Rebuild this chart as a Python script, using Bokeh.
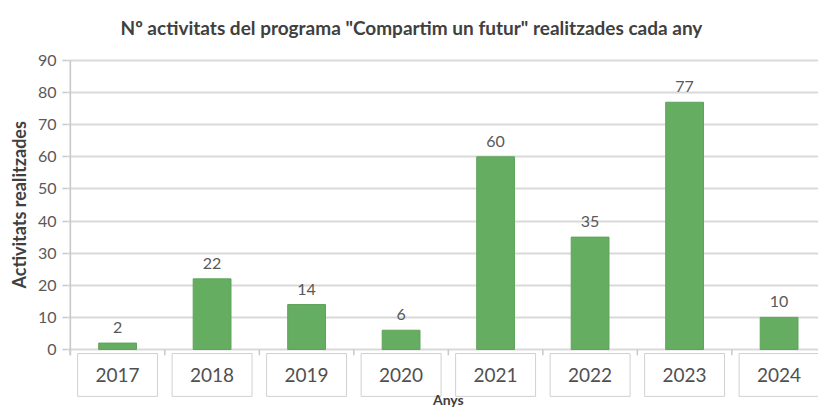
from bokeh.plotting import figure
from bokeh.models import Range1d, FixedTicker, Title
from bokeh.embed import file_html
from bokeh.resources import INLINE
from bokeh.core.properties import value

years = ["2017", "2018", "2019", "2020", "2021", "2022", "2023", "2024"]
activities = [2, 22, 14, 6, 60, 35, 77, 10]
y_ticks = [0, 10, 20, 30, 40, 50, 60, 70, 80, 90]
title_text = 'Nº activitats del programa "Compartim un futur" realitzades cada any'
y_title = "Activitats realitzades"
x_title = "Anys"

FONT = "Lato"
idx = list(range(len(years)))

p = figure(width=818, height=409, output_backend="svg", toolbar_location=None,
           x_range=Range1d(-0.53, 7.417), y_range=Range1d(-18.69, 93.12),
           x_axis_location=None,
           min_border_left=67, min_border_right=0, min_border_top=50, min_border_bottom=0)
p.outline_line_color = None
p.background_fill_color = "white"

p.title.text = title_text
p.title.align = "left"
p.title.text_font = FONT
p.title.text_font_size = "19px"
p.title.text_font_style = "bold"
p.title.text_color = "#404040"
p.title.offset = 53
p.title.standoff = 24

p.xgrid.visible = False
p.ygrid.ticker = FixedTicker(ticks=y_ticks)
p.ygrid.grid_line_color = "#D9D9D9"
p.ygrid.grid_line_width = 1.8

ax = p.yaxis[0]
ax.ticker = FixedTicker(ticks=y_ticks)
ax.axis_line_color = None
ax.major_tick_line_color = "#C8C8C8"
ax.major_tick_line_width = 1.5
ax.major_tick_out = 5
ax.major_tick_in = 0
ax.minor_tick_line_color = None
ax.major_label_text_font = FONT
ax.major_label_text_font_size = "16px"
ax.major_label_text_color = "#595959"
ax.major_label_standoff = 6

# y-axis title as a side title, so it can sit off-centre (centred on the 0..90 span)
p.add_layout(Title(text=y_title, align="left", offset=121, standoff=9,
                   text_font=FONT, text_font_size="18px", text_font_style="bold",
                   text_color="#404040"), "left")

# vertical axis line (stops just below zero)
p.segment(x0=[-0.5], y0=[-1.8], x1=[-0.5], y1=[y_ticks[-1]], line_color="#C8C8C8", line_width=1.6)
# category boundary ticks
bounds = [i - 0.5 for i in range(len(years) + 1)]
p.segment(x0=bounds, y0=[0] * len(bounds), x1=bounds, y1=[-1.8] * len(bounds),
          line_color="#C8C8C8", line_width=1.5)

p.vbar(x=idx, top=activities, width=0.4, fill_color="#65AD61", line_color="#5FA35B", line_width=1)

p.text(x=idx, y=activities, text=[str(v) for v in activities], text_align="center",
       text_baseline="bottom", y_offset=-10, text_font=value(FONT), text_font_size="16px",
       text_color="#595959")

# category label boxes
p.quad(left=[i - 0.423 for i in idx], right=[i + 0.423 for i in idx],
       top=[-1.25] * len(idx), bottom=[-14.6] * len(idx),
       fill_color="white", line_color="#D0D0D0", line_width=1)
p.text(x=idx, y=[-8.0] * len(idx), text=years, text_align="center", text_baseline="middle",
       text_font=value(FONT), text_font_size="19px", text_color="#505050")

p.text(x=[(len(years) - 1) / 2], y=[-18.3], text=[x_title], text_align="center",
       text_baseline="bottom", text_font=value(FONT), text_font_size="14px",
       text_font_style="bold", text_color="#404040")

open("out.html", "w").write(file_html(p, INLINE))
